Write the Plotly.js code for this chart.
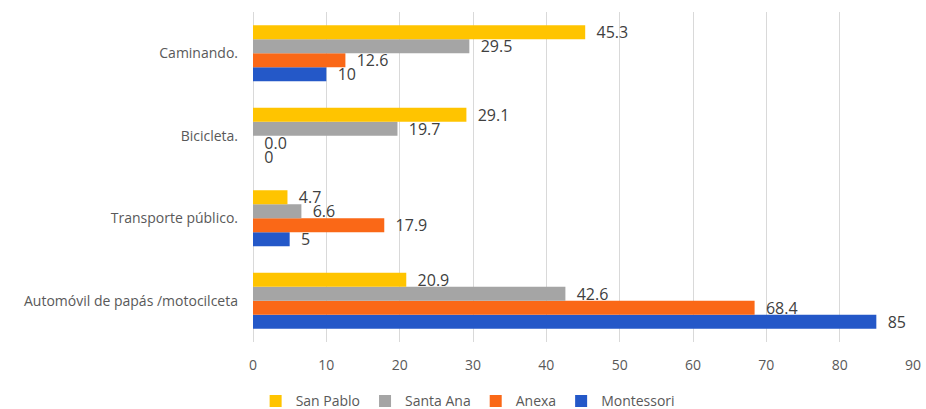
<!DOCTYPE html>
<html><head><meta charset="utf-8">
<script src="https://cdn.plot.ly/plotly-3.0.1.min.js"></script>
<style>html,body{margin:0;padding:0;background:#fff}#chart{width:926px;height:409px}</style>
</head><body><div id="chart"></div>
<script>
const categories = ["Automóvil de papás /motocilceta", "Transporte público.", "Bicicleta.", "Caminando."];
const sanPablo   = [20.9, 4.7, 29.1, 45.3];
const santaAna   = [42.6, 6.6, 19.7, 29.5];
const anexa      = [68.4, 17.9, 0.0, 12.6];
const montessori = [85, 5, 0, 10];
const sanPabloLabels   = ["20.9", "4.7", "29.1", "45.3"];
const santaAnaLabels   = ["42.6", "6.6", "19.7", "29.5"];
const anexaLabels      = ["68.4", "17.9", "0.0", "12.6"];
const montessoriLabels = ["85", "5", "0", "10"];
const xTicks = [0, 10, 20, 30, 40, 50, 60, 70, 80, 90];

const font = "Open Sans, Noto Sans, sans-serif";
function tr(name, vals, labels, color) {
  return {
    type: "bar", orientation: "h", name: name,
    x: vals, y: categories,
    text: labels.map(s => "\u00a0\u00a0" + s),
    textposition: "outside", cliponaxis: false, constraintext: "none",
    textfont: {family: font, size: 16, color: "#404040"},
    marker: {color: color},
    hoverinfo: "x+name"
  };
}
const data = [
  tr("Montessori", montessori, montessoriLabels, "#2458C8"),
  tr("Anexa", anexa, anexaLabels, "#FA6817"),
  tr("Santa Ana", santaAna, santaAnaLabels, "#A5A5A5"),
  tr("San Pablo", sanPablo, sanPabloLabels, "#FFC400")
];
const layout = {
  width: 926, height: 409,
  margin: {l: 253, r: 13, t: 12, b: 67, autoexpand: false},
  barmode: "group", bargap: 0.32, bargroupgap: 0,
  paper_bgcolor: "#fff", plot_bgcolor: "#fff",
  font: {family: font, size: 14, color: "#595959"},
  xaxis: {range: [0, 90], tickvals: xTicks, ticktext: xTicks.map(String),
          showgrid: true, gridcolor: "#D9D9D9", gridwidth: 1, zeroline: true,
          zerolinecolor: "#D9D9D9", showline: false, ticks: "", ticklabelstandoff: 13,
          tickfont: {family: font, size: 14, color: "#595959"}, fixedrange: true},
  yaxis: {type: "category", categoryorder: "array", categoryarray: categories,
          range: [-0.5, 3.5], showgrid: false, zeroline: false, showline: false,
          ticks: "", ticklabelstandoff: 14,
          tickfont: {family: font, size: 14, color: "#595959"}},
  legend: {orientation: "h", traceorder: "reversed", xref: "container", yref: "paper",
           x: 0.505, xanchor: "center", y: -0.18, yanchor: "middle",
           font: {family: font, size: 14, color: "#595959"}, itemwidth: 30},
  showlegend: true
};
Plotly.newPlot("chart", data, layout, {displayModeBar: false, staticPlot: true});
</script></body></html>
